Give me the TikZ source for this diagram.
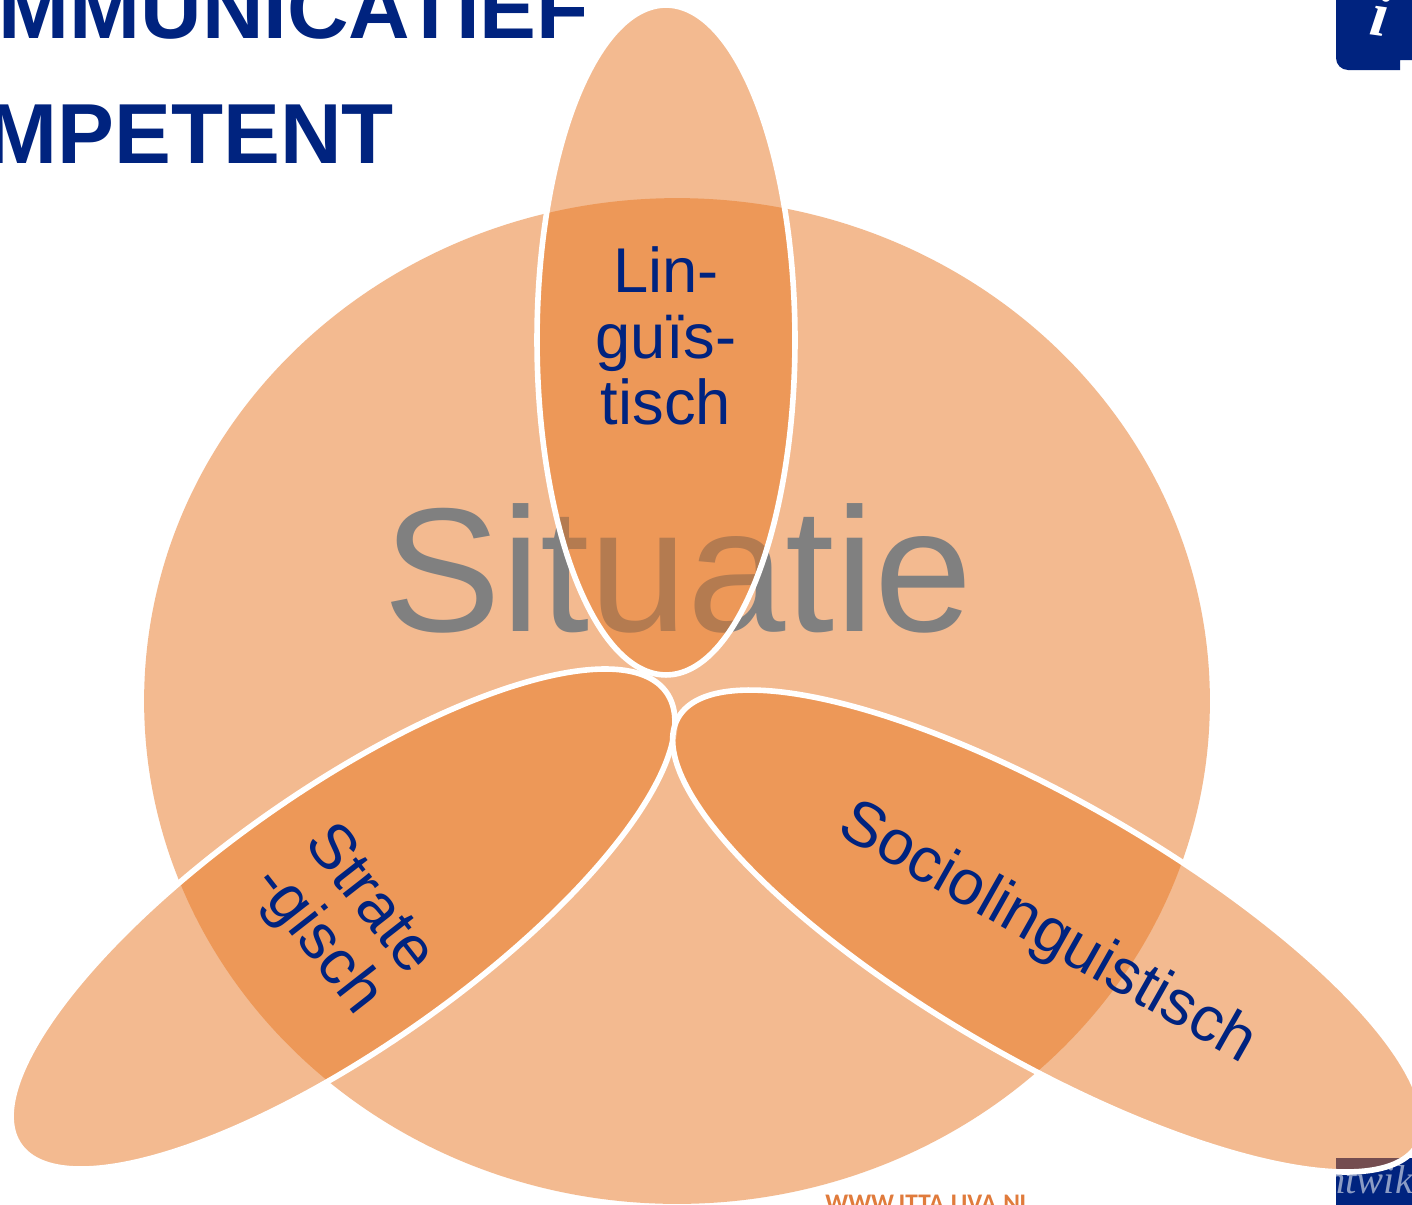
\documentclass[tikz,border=0pt]{standalone}
\usepackage{fontspec}
\setmainfont{Liberation Sans}
\newfontfamily\logofont{Liberation Serif}
\newfontfamily\urlfont{Carlito}
\usetikzlibrary{shapes.geometric}
\definecolor{navyblue}{HTML}{00237F}
\definecolor{vennorange}{HTML}{E87722}
\definecolor{urlorange}{HTML}{E07B3C}
\definecolor{logotext}{HTML}{8C9CC4}
\tikzset{
  venn/.style={ellipse, fill=vennorange, fill opacity=0.5, inner sep=0pt},
  petal/.style={venn, draw=white, line width=3.2pt},
  petaltext/.style={text=navyblue, font=\fontsize{36}{37.5}\selectfont, align=center, inner sep=0pt},
  titletext/.style={text=navyblue, font=\fontsize{48.5}{50}\selectfont\bfseries, anchor=base east, inner sep=0pt}
}
\begin{document}
\begin{tikzpicture}[x=0.02cm, y=-0.02cm]
\useasboundingbox (0,0) rectangle (1412,1204);
\clip (0,0) rectangle (1412,1204);
\fill[white] (0,0) rectangle (1412,1204);
% title, runs off the slide
\node[titletext] (titleone) at (589,38) {COMMUNICATIEF};
\node[titletext] (titletwo) at (394,163) {COMPETENT};
% logos in the corners
\fill[navyblue] (1336,-20) -- (1336,58) arc[start angle=180, end angle=90, x radius=12, y radius=12] -- (1400,70) -- (1400,60) -- (1420,60) -- (1420,-20) -- cycle;
\node[text=white, font=\logofont\fontsize{36}{36}\selectfont\bfseries\itshape, inner sep=0pt, rotate=-8] (infoicon) at (1380,14) {i};
\begin{scope}
\clip (1336,1158) rectangle (1420,1210);
\fill[navyblue] (1336,1158) rectangle (1420,1210);
\node[text=logotext, font=\logofont\fontsize{23}{23}\selectfont\itshape, anchor=base west, inner sep=0pt] (logotxt) at (1296,1193) {Ontwikkeling};
\end{scope}
\node[text=urlorange, font=\urlfont\fontsize{14.4}{14.4}\selectfont\bfseries, anchor=base west, inner sep=0pt] (urltxt) at (825,1211) {WWW.ITTA.UVA.NL};
% big circle
\node[venn, minimum width=21.32cm, minimum height=20.12cm] (situatie) at (677,701) {};
\node[text=gray, font=\fontsize{100.5}{100.5}\selectfont, inner sep=0pt, anchor=base] (situatietxt) at (678,631) {Situatie};
% three ellipses
\node[petal, minimum width=5.16cm, minimum height=13.4cm] (lingu) at (666,340) {};
\node[petal, minimum width=15.8cm, minimum height=5.16cm, rotate=35] (strat) at (343,919) {};
\node[petal, minimum width=17.08cm, minimum height=5.16cm, rotate=-30] (socio) at (1048,931) {};
\node[petaltext] (lingutxt) at (666,336) {Lin-\\guïs-\\tisch};
\node[petaltext, rotate=-52] (strattxt) at (342,921) {Strate\\-gisch};
\node[petaltext, rotate=-29.5] (sociotxt) at (1047,934) {Sociolinguistisch};
\end{tikzpicture}
\end{document}
